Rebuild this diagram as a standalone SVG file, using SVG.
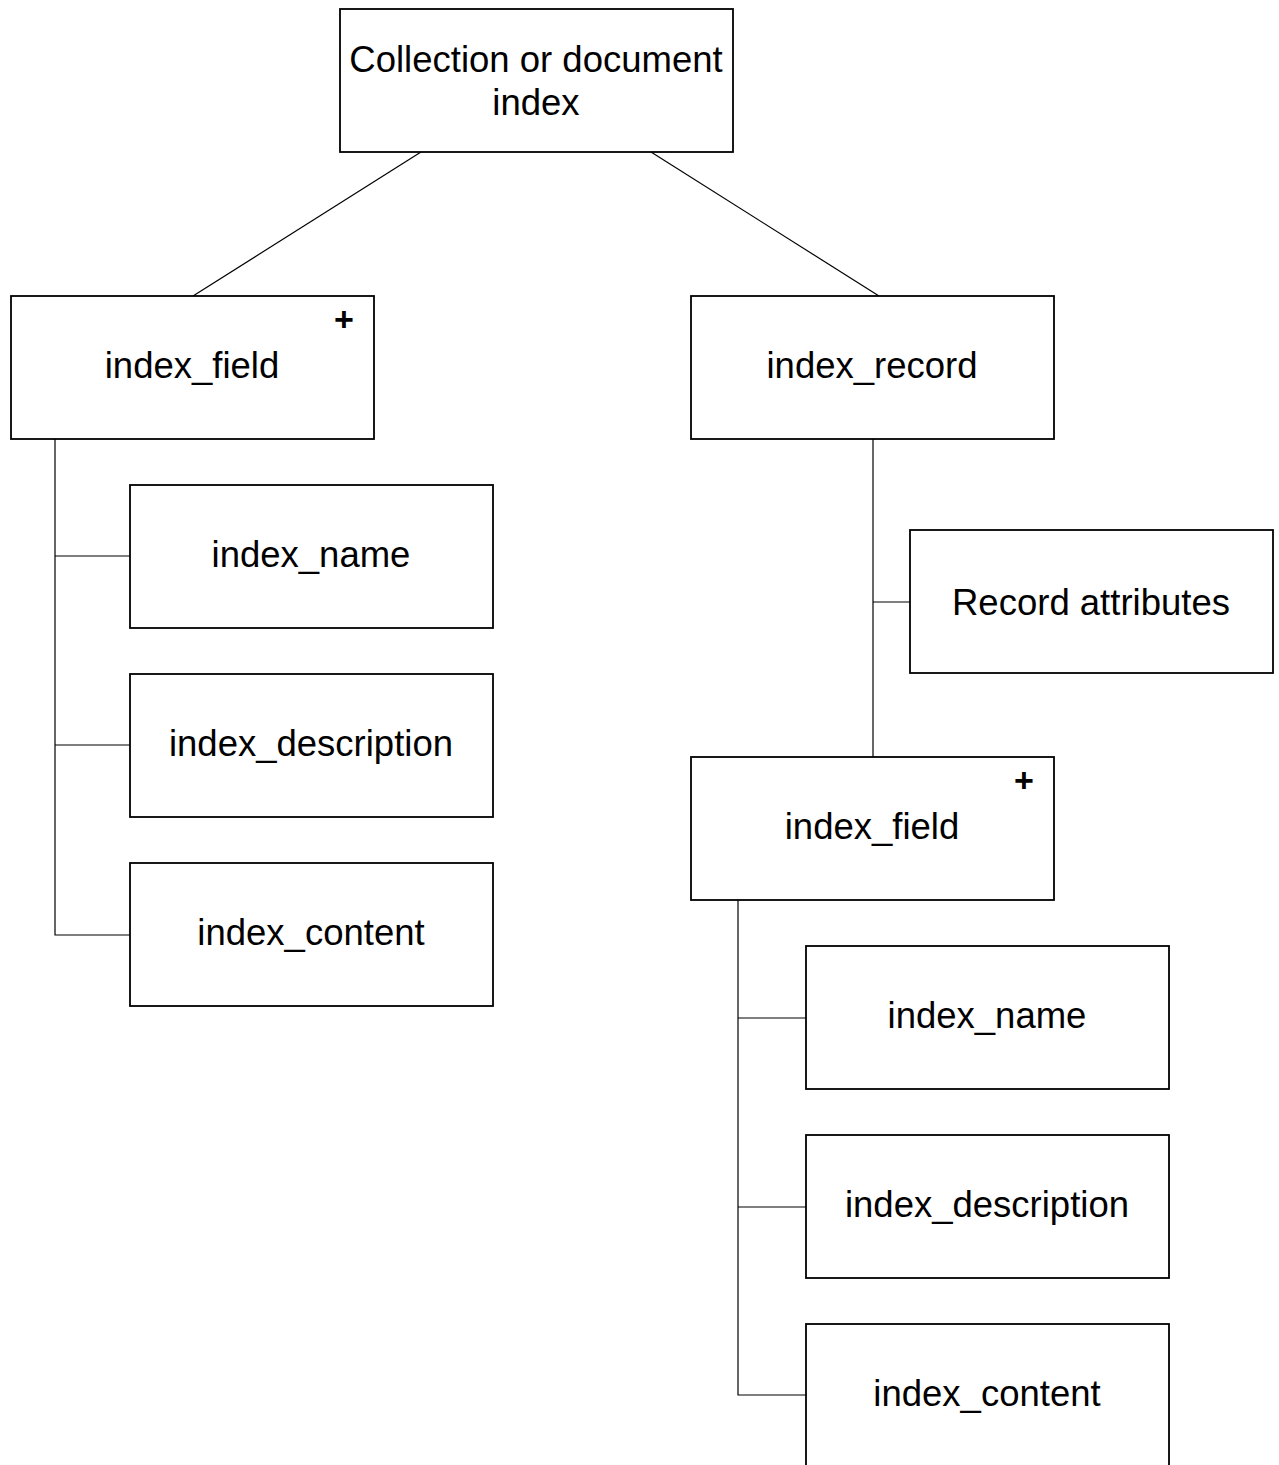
<svg xmlns="http://www.w3.org/2000/svg" width="1279" height="1465" viewBox="0 0 1279 1465">
<style>
.box{fill:#fff;stroke:#000;stroke-width:1.8}
.lbl{font-family:"Liberation Sans",Arial,sans-serif;font-size:36.5px;fill:#000;text-anchor:middle}
.plus{font-family:"Liberation Sans",Arial,sans-serif;font-size:34px;font-weight:bold;fill:#000;text-anchor:middle}
.con{stroke:#000;stroke-width:1.2;fill:none}
</style>
<rect width="1279" height="1465" fill="#fff"/>
<g id="connectors">
<line class="con" x1="421" y1="152" x2="193" y2="296"/>
<line class="con" x1="651" y1="152" x2="879" y2="296"/>
<polyline class="con" points="55,439 55,935 130,935"/>
<line class="con" x1="55" y1="556" x2="130" y2="556"/>
<line class="con" x1="55" y1="745" x2="130" y2="745"/>
<line class="con" x1="873" y1="439" x2="873" y2="757"/>
<line class="con" x1="873" y1="602" x2="910" y2="602"/>
<polyline class="con" points="738,900 738,1395 806,1395"/>
<line class="con" x1="738" y1="1018" x2="806" y2="1018"/>
<line class="con" x1="738" y1="1207" x2="806" y2="1207"/>
</g>
<g id="root"><rect class="box" x="340" y="9" width="393" height="143"/><text class="lbl" x="536" y="72">Collection or document</text><text class="lbl" x="536" y="115">index</text></g>
<g id="field-left"><rect class="box" x="11" y="296" width="363" height="143"/><text class="lbl" x="192" y="378">index_field</text><text class="plus" x="344" y="331">+</text></g>
<g id="record"><rect class="box" x="691" y="296" width="363" height="143"/><text class="lbl" x="872" y="378">index_record</text></g>
<g id="name-left"><rect class="box" x="130" y="485" width="363" height="143"/><text class="lbl" x="311" y="567">index_name</text></g>
<g id="desc-left"><rect class="box" x="130" y="674" width="363" height="143"/><text class="lbl" x="311" y="756">index_description</text></g>
<g id="content-left"><rect class="box" x="130" y="863" width="363" height="143"/><text class="lbl" x="311" y="945">index_content</text></g>
<g id="attrs"><rect class="box" x="910" y="530" width="363" height="143"/><text class="lbl" x="1091" y="615">Record attributes</text></g>
<g id="field-right"><rect class="box" x="691" y="757" width="363" height="143"/><text class="lbl" x="872" y="839">index_field</text><text class="plus" x="1024" y="792">+</text></g>
<g id="name-right"><rect class="box" x="806" y="946" width="363" height="143"/><text class="lbl" x="987" y="1028">index_name</text></g>
<g id="desc-right"><rect class="box" x="806" y="1135" width="363" height="143"/><text class="lbl" x="987" y="1217">index_description</text></g>
<g id="content-right"><rect class="box" x="806" y="1324" width="363" height="143"/><text class="lbl" x="987" y="1406">index_content</text></g>
</svg>
